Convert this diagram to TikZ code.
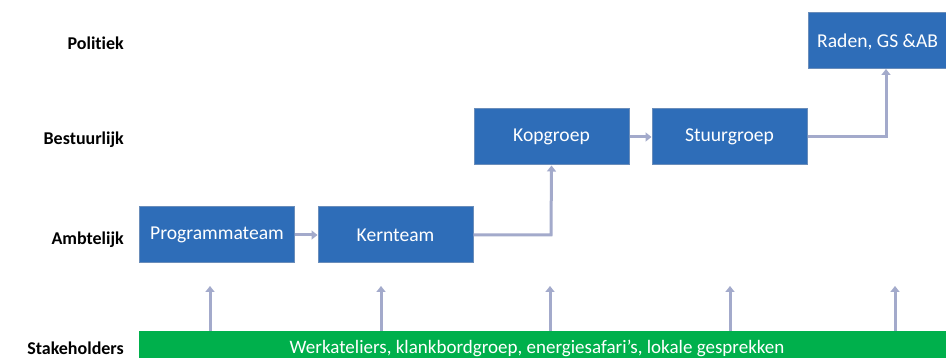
\documentclass[tikz,border=0pt]{standalone}
\usepackage{fontspec}
\setmainfont{Carlito}[Ligatures=NoCommon]
\usetikzlibrary{arrows.meta}
\definecolor{boxblue}{HTML}{2E6DB8}
\definecolor{boxline}{HTML}{6A8DBA}
\definecolor{arrowc}{HTML}{A3AACB}
\definecolor{stgreen}{HTML}{00B04C}
\tikzset{
  level/.style={font=\fontsize{18}{20}\selectfont\bfseries, anchor=east, inner sep=0pt},
  orgbox/.style={rectangle, fill=boxblue, draw=boxline, line width=1pt, minimum width=155pt, minimum height=56pt, text=white, font=\fontsize{19.6}{22}\selectfont, inner sep=0pt},
  flow/.style={draw=arrowc, line width=3pt, -{Triangle[width=9pt,length=6pt]}},
}
\begin{document}
\begin{tikzpicture}[x=1pt,y=-1pt]
\useasboundingbox (0,0) rectangle (946,358);
\clip (0,0) rectangle (946,358);
\fill[white] (0,0) rectangle (946,358);
% level labels
\node[level] (lpol) at (124,43) {Politiek};
\node[level] (lbes) at (124,140) {Bestuurlijk};
\node[level] (lamb) at (124,240) {Ambtelijk};
\node[level] (lsta) at (124,348) {Stakeholders};
% boxes
\node[orgbox] (prog) at (217,235) {Programmateam};
\node[orgbox] (kern) at (395.5,235) {Kernteam};
\node[orgbox] (kop) at (551.5,137) {Kopgroep};
\node[orgbox] (stuur) at (729.5,137) {Stuurgroep};
\node[orgbox, minimum width=160pt] (raden) at (888,41) {};
\node[anchor=west, text=white, font=\fontsize{19.6}{22}\selectfont, inner sep=0pt] (radent) at (817,42) {Raden, GS \&AB};
% green bar
\node[rectangle, fill=stgreen, draw=stgreen, anchor=north west, minimum width=820pt, minimum height=40pt, inner sep=0pt] (bar) at (139,331) {};
\node[text=white, font=\fontsize{19}{21}\selectfont, inner sep=0pt] (bartext) at (537,348) {Werkateliers, klankbordgroep, energiesafari’s, lokale gesprekken};
% flows
\draw[flow] (prog.east) -- (kern.west);
\draw[flow] (kop.east) -- (stuur.west);
\draw[flow] (kern.east) -- (551,235) -- (kop.south);
\draw[flow] (stuur.east) -- (886,137) -- (886,69);
% stakeholder arrows
\coordinate (t1) at (210,286);
\coordinate (t2) at (381,286);
\coordinate (t3) at (550,286);
\coordinate (t4) at (730,286);
\coordinate (t5) at (895,286);
\foreach \t in {t1,t2,t3,t4,t5}{
  \draw[flow] (bar.north -| \t) -- (\t);
}
\end{tikzpicture}
\end{document}
